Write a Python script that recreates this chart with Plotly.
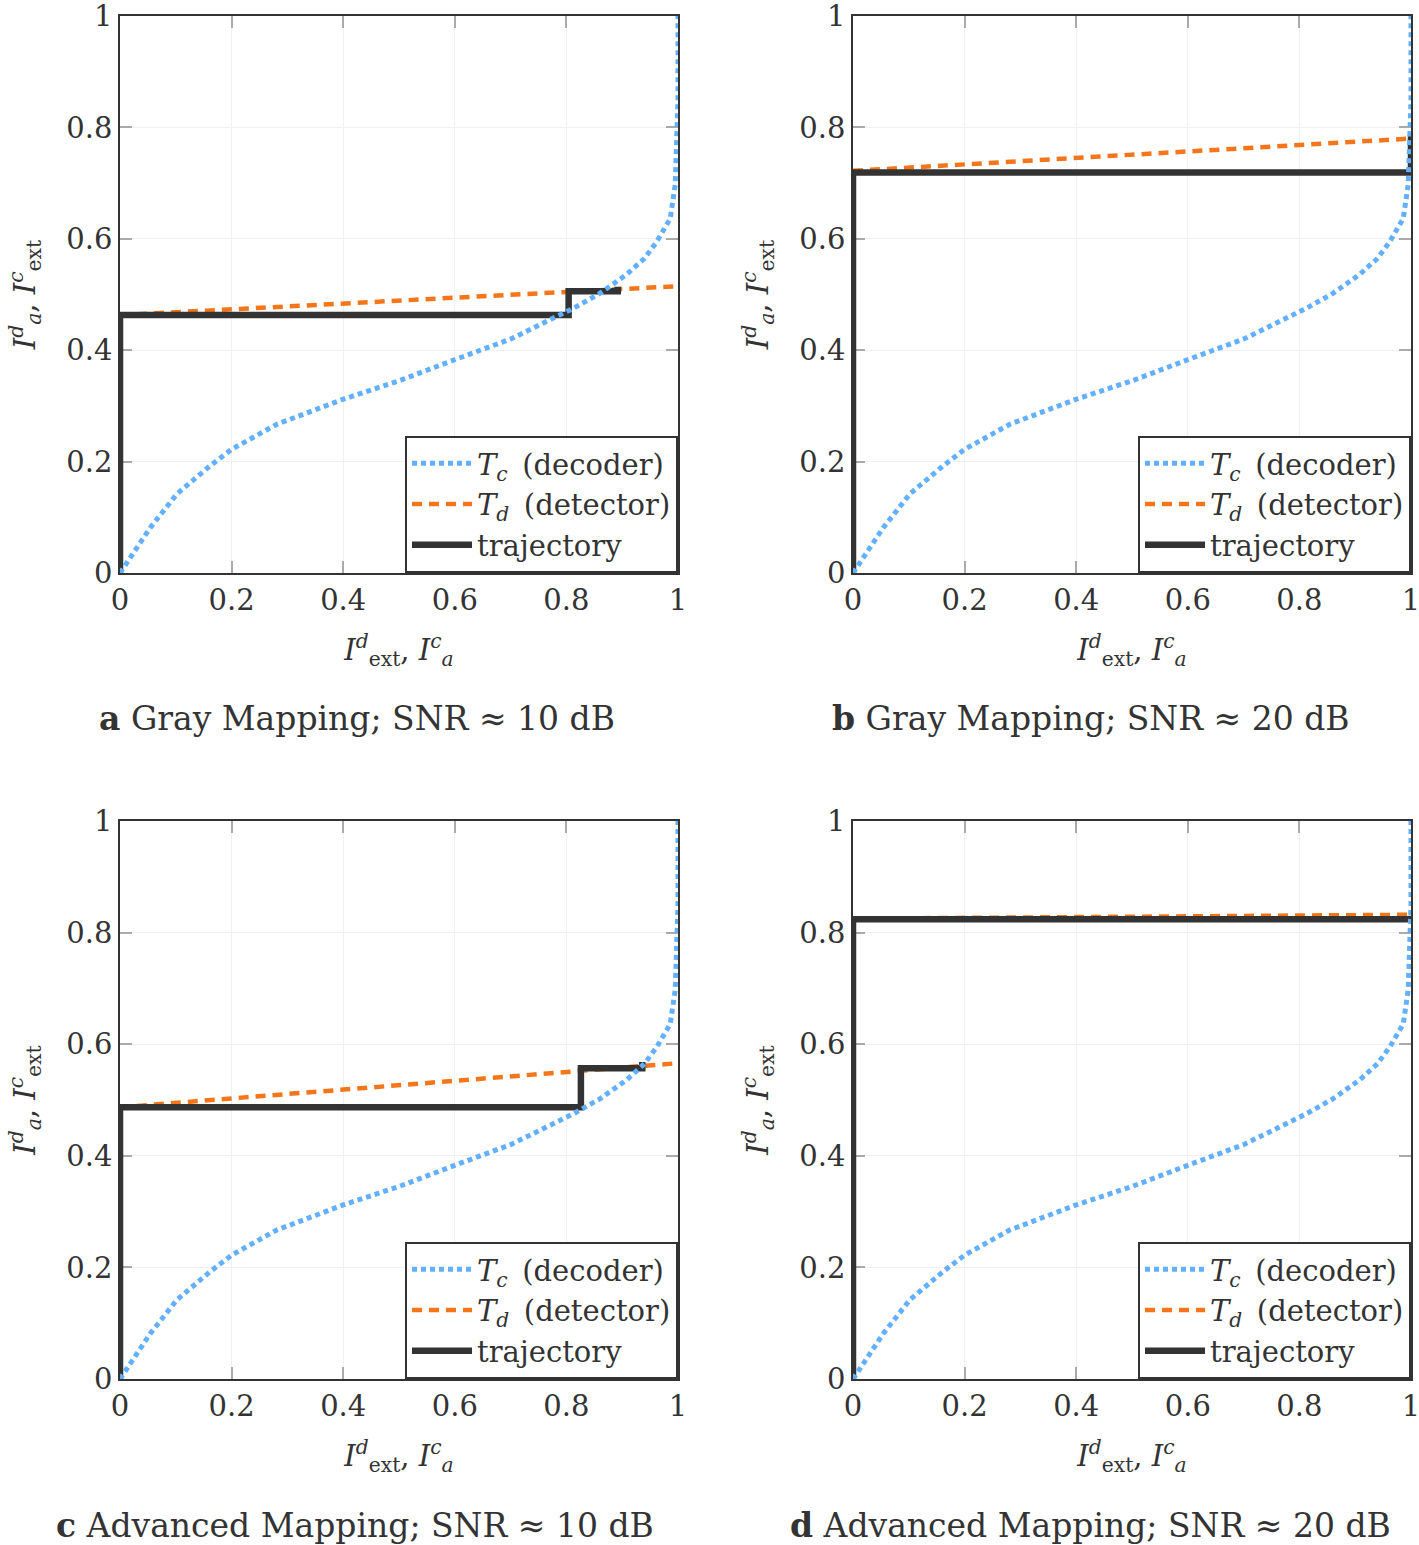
import plotly.graph_objects as go

# ---- data ----
tc_x = [0, 0.054, 0.102, 0.161, 0.2, 0.281, 0.4, 0.5, 0.6, 0.7, 0.812, 0.86, 0.908, 0.94, 0.962, 0.986, 0.995, 0.998, 1.0, 1.0]
tc_y = [0, 0.081, 0.142, 0.192, 0.222, 0.267, 0.312, 0.345, 0.383, 0.42, 0.475, 0.502, 0.536, 0.565, 0.595, 0.636, 0.697, 0.769, 0.85, 1.0]

td_x = [0, 1]
td_a = [0.463, 0.515]
td_b = [0.722, 0.780]
td_c = [0.487, 0.566]
td_d = [0.825, 0.832]

traj_a_x = [0, 0, 0.804, 0.804, 0.892, 0.892]
traj_a_y = [0, 0.463, 0.463, 0.506, 0.506, 0.514]
traj_b_x = [0, 0, 1, 1]
traj_b_y = [0, 0.719, 0.719, 0.784]
traj_c_x = [0, 0, 0.826, 0.826, 0.936, 0.936]
traj_c_y = [0, 0.487, 0.487, 0.557, 0.557, 0.568]
traj_d_x = [0, 0, 1, 1]
traj_d_y = [0, 0.824, 0.824, 0.830]

tick_vals = [0, 0.2, 0.4, 0.6, 0.8, 1]
tick_text = ["0", "0.2", "0.4", "0.6", "0.8", "1"]

captions = ["<b>a</b> Gray Mapping; SNR ≈ 10 dB",
            "<b>b</b> Gray Mapping; SNR ≈ 20 dB",
            "<b>c</b> Advanced Mapping; SNR ≈ 10 dB",
            "<b>d</b> Advanced Mapping; SNR ≈ 20 dB"]

names = ["<i>T</i><sub><i>c</i></sub>\u2002(decoder)",
         "<i>T</i><sub><i>d</i></sub>\u2002(detector)",
         "trajectory"]

# ---- style ----
W, H = 1419, 1545
FONT = "DejaVu Serif"
BLUE = "#62b0ff"
ORANGE = "#f5761a"
DARK = "#333333"

panels = [
    (td_a, traj_a_x, traj_a_y, (120, 678), (16, 573)),
    (td_b, traj_b_x, traj_b_y, (853, 1411), (16, 573)),
    (td_c, traj_c_x, traj_c_y, (120, 678), (821, 1379)),
    (td_d, traj_d_x, traj_d_y, (853, 1411), (821, 1379)),
]
cap_pos = [(357, 718), (1091, 718), (355, 1525), (1090, 1525)]

fig = go.Figure()
layout = dict(width=W, height=H, margin=dict(l=0, r=0, t=0, b=0),
              plot_bgcolor="white", paper_bgcolor="white",
              font=dict(family=FONT, size=30, color=DARK), annotations=[])

for i, (td, trx, try_, (x0, x1), (y0, y1)) in enumerate(panels):
    k = "" if i == 0 else str(i + 1)
    xa, ya, lg = "x" + k, "y" + k, "legend" + k
    fig.add_trace(go.Scatter(x=td_x, y=td, mode="lines", name=names[1], xaxis=xa, yaxis=ya,
                             legend=lg, legendrank=2, cliponaxis=False,
                             line=dict(color=ORANGE, width=4.5, dash="10px,7px")))
    fig.add_trace(go.Scatter(x=trx, y=try_, mode="lines", name=names[2], xaxis=xa, yaxis=ya,
                             legend=lg, legendrank=3, cliponaxis=False,
                             line=dict(color=DARK, width=6.5)))
    fig.add_trace(go.Scatter(x=tc_x, y=tc_y, mode="lines", name=names[0], xaxis=xa, yaxis=ya,
                             legend=lg, legendrank=1, cliponaxis=False,
                             line=dict(color=BLUE, width=5, dash="5px,4px")))
    common = dict(range=[0, 1], tickvals=tick_vals, ticktext=tick_text, showline=True,
                  linecolor=DARK, linewidth=1.5, mirror="ticks", ticks="inside",
                  ticklen=12, tickwidth=1.5, tickcolor="#aaaaaa", showgrid=True,
                  gridcolor="#f0f0f0", gridwidth=1, zeroline=False, automargin=False,
                  layer="below traces", ticklabeloverflow="allow",
                  tickfont=dict(family=FONT, size=29, color=DARK))
    layout["xaxis" + k] = dict(common, domain=[x0 / W, x1 / W], anchor=ya,
                               title=dict(text="<i>I</i><sup><i>d</i></sup><sub>ext</sub>, <i>I</i><sup><i>c</i></sup><sub><i>a</i></sub>",
                                          font=dict(family=FONT, size=29), standoff=24))
    layout["yaxis" + k] = dict(common, domain=[1 - y1 / H, 1 - y0 / H], anchor=xa,
                               title=dict(text="<i>I</i><sup><i>d</i></sup><sub><i>a</i></sub>, <i>I</i><sup><i>c</i></sup><sub>ext</sub>",
                                          font=dict(family=FONT, size=29), standoff=22))
    layout[lg] = dict(x=x1 / W, y=1 - y1 / H, xanchor="right", yanchor="bottom",
                      xref="paper", yref="paper",
                      bgcolor="white", bordercolor=DARK, borderwidth=2,
                      font=dict(family=FONT, size=29, color=DARK),
                      itemwidth=60, tracegroupgap=0)
    cx, cy = cap_pos[i]
    layout["annotations"].append(dict(text=captions[i], x=cx / W, y=1 - cy / H, xref="paper", yref="paper",
                                      xanchor="center", yanchor="middle", showarrow=False,
                                      font=dict(family=FONT, size=33, color=DARK)))

fig.update_layout(**layout)
fig.write_html("out.html", config={"displayModeBar": False},
               post_script="document.body.style.margin='0';document.body.style.overflow='hidden';")
